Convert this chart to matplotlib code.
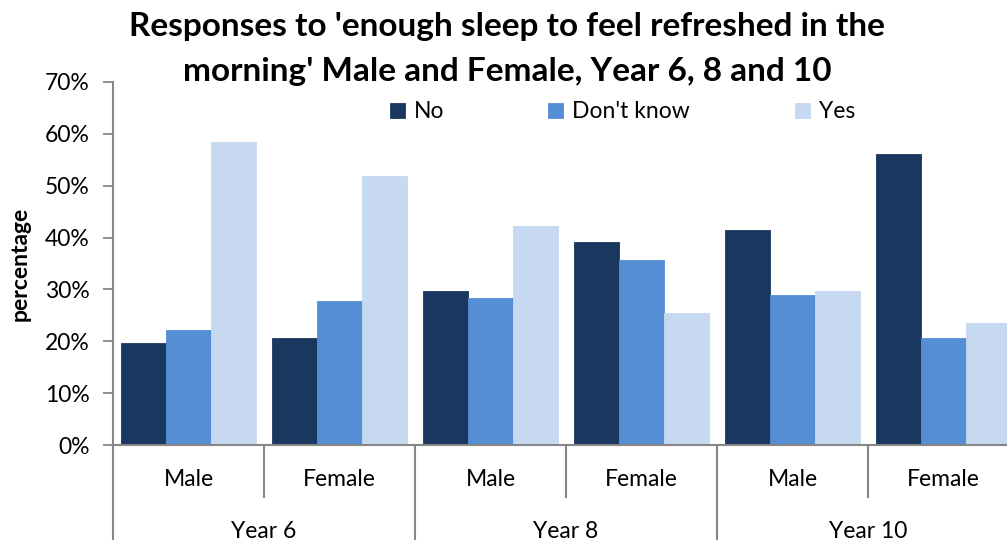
import matplotlib
matplotlib.use("Agg")
import matplotlib.pyplot as plt
import matplotlib.transforms as mtransforms
import numpy as np

plt.rcParams['font.family'] = ['Lato', 'DejaVu Sans']

# data
groups = ["Year 6", "Year 8", "Year 10"]
subcats = ["Male", "Female"]
series_names = ["No", "Don't know", "Yes"]
no_vals = [19.6, 20.7, 29.7, 39.1, 41.4, 56.1]
dontknow_vals = [22.2, 27.7, 28.3, 35.6, 28.9, 20.6]
yes_vals = [58.4, 51.8, 42.2, 25.4, 29.7, 23.5]
colors = ["#1A375F", "#558ED5", "#C6D9F1"]

W, H = 1007, 540
fig = plt.figure(figsize=(W / 100, H / 100), dpi=100)

# axes placed in pixel terms (right side runs off the figure like the original)
left, right, bottom, top = 113, 1019, 445, 82
ax = fig.add_axes([left / W, (H - bottom) / H, (right - left) / W, (bottom - top) / H])

n = len(no_vals)
x = np.arange(n) + 0.5
width = 0.30
handles = []
for i, (vals, name) in enumerate(zip([no_vals, dontknow_vals, yes_vals], series_names)):
    b = ax.bar(x + (i - 1) * width, vals, width, color=colors[i], label=name,
               edgecolor=colors[i], linewidth=0.6)
    handles.append(b)

fs = 16.5
ax.set_xlim(0, n)
ax.set_ylim(0, 70)
ax.set_yticks(range(0, 71, 10))
ax.set_yticklabels([f"{v}%" for v in range(0, 71, 10)], fontsize=fs)
ax.tick_params(axis='y', length=7, width=1.3, color="#868686", pad=10)
ax.set_xticks([])
for s in ["top", "right"]:
    ax.spines[s].set_visible(False)
for s in ["left", "bottom"]:
    ax.spines[s].set_color("#868686")
    ax.spines[s].set_linewidth(1.5)

ax.set_ylabel("percentage", fontsize=16.5, fontweight="bold", labelpad=10)

# multi level category axis
trans = mtransforms.blended_transform_factory(ax.transData, ax.transAxes)
ax_h = bottom - top
short = -52 / ax_h
long_ = -110 / ax_h
for k in range(n + 1):
    yend = long_ if k % 2 == 0 else short
    ax.plot([k, k], [0, yend], transform=trans, color="#868686", lw=1.5, clip_on=False)
for k in range(n):
    ax.text(k + 0.5, -35 / ax_h, subcats[k % 2], transform=trans, ha="center", va="center",
            fontsize=fs)
for g, name in enumerate(groups):
    ax.text(2 * g + 1, -86 / ax_h, name, transform=trans, ha="center", va="center",
            fontsize=fs)

fig.suptitle("Responses to 'enough sleep to feel refreshed in the\nmorning' Male and Female, Year 6, 8 and 10",
             x=507 / W, y=1 - 12 / H, va="top", fontsize=24, fontweight="bold", linespacing=1.65)

# legend entries spaced like the original
legend_x = [390, 548, 795]
for h, lx in zip(handles, legend_x):
    fig.legend(handles=[h], loc="center left", bbox_to_anchor=(lx / W, 1 - 112 / H),
               frameon=False, fontsize=fs, handlelength=0.65, handleheight=0.65,
               handletextpad=0.4, borderpad=0, borderaxespad=0)

plt.savefig("out.png", dpi=100)
plt.close()
